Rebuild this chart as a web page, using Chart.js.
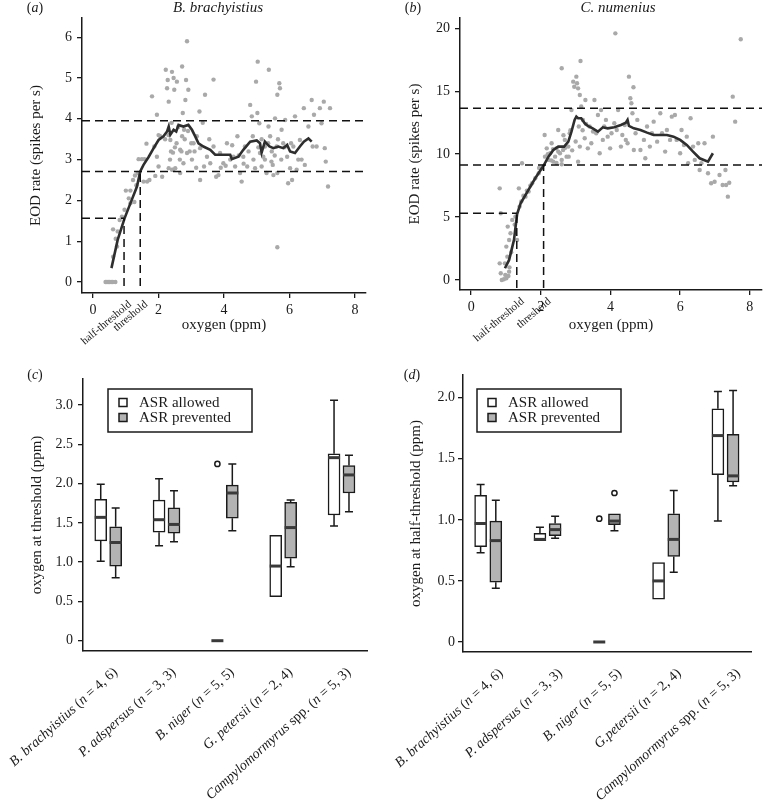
<!DOCTYPE html>
<html>
<head>
<meta charset="utf-8">
<script src="https://cdn.jsdelivr.net/npm/chart.js@4.4.0/dist/chart.umd.min.js"></script>
<style>
  body { margin: 0; background: #fff; width: 766px; height: 812px; position: relative; overflow: hidden; }
  canvas { position: absolute; }
</style>
</head>
<body>
<canvas id="a" width="383" height="345" style="left:0;top:0"></canvas>
<canvas id="b" width="383" height="345" style="left:383px;top:0"></canvas>
<canvas id="c" width="383" height="482" style="left:0;top:330px"></canvas>
<canvas id="d" width="383" height="482" style="left:383px;top:330px"></canvas>
<script>
// ---- panel (a) B. brachyistius: EOD rate vs oxygen ----
var oxyA = [0.38,0.42,0.46,0.50,0.55,0.60,0.68,
  0.61,0.75,0.69,0.73,0.61,0.81,0.88,0.96,1.00,1.09,1.14,1.22,1.28,1.26,1.14,1.32,1.36,1.39,1.49,1.57,1.63,1.54,1.65,1.72,
  1.80,1.95,1.87,1.95,2.00,2.05,2.11,2.22,2.26,2.28,2.31,2.41,2.46,2.48,2.56,2.36,2.38,2.44,2.31,2.41,2.51,2.66,
  2.72,2.74,2.82,2.87,2.84,2.91,2.78,2.72,2.66,2.87,2.76,2.95,3.02,3.07,3.17,3.25,3.42,3.68,3.27,3.27,3.48,3.39,3.58,3.68,3.76,3.83,3.88,3.98,
  4.09,4.19,4.29,4.34,4.41,4.49,4.54,4.59,4.64,4.71,4.80,4.85,4.88,4.95,4.98,5.03,5.02,5.08,5.10,5.15,
  5.20,5.25,5.30,5.37,5.36,5.41,5.46,5.49,5.51,5.56,5.61,5.63,5.69,5.71,5.63,5.63,5.76,5.81,5.87,5.93,
  5.96,6.02,6.08,6.12,6.17,6.22,6.27,6.32,6.37,6.44,6.47,6.58,6.68,6.71,6.75,6.83,6.93,6.98,7.05,7.08,7.11,7.18,7.24,
  2.20,2.30,2.40,2.50,2.60,2.70,2.80,2.90,3.00,3.10,2.45,2.35,2.55,2.65,2.00,1.90,
  5.05,5.15,5.25,5.35,5.45,5.55,5.65,5.75,5.85,6.05,4.90,4.75,4.60,4.45,4.25,4.05,3.90,3.55,3.35,3.15]
var rateA = [0,0,0,0,0,0,0,
  1.29,1.24,1.06,0.87,0.62,1.52,1.60,1.77,2.24,2.05,2.24,2.50,2.61,1.96,1.93,2.37,2.67,3.01,3.01,3.01,3.39,2.46,2.46,2.50,
  4.55,4.10,3.32,3.07,2.83,3.57,2.58,5.20,4.75,4.95,4.42,5.15,5.00,4.71,4.91,3.48,3.20,3.17,2.79,2.75,2.79,2.67,
  5.28,4.14,4.46,5.90,4.95,4.71,3.73,3.57,3.24,3.16,2.91,3.20,3.00,3.40,3.57,4.18,4.59,4.96,2.50,3.28,3.07,2.83,2.91,3.32,2.58,2.62,3.16,2.91,
  3.40,3.00,3.07,2.83,3.57,2.67,2.46,3.07,3.32,2.83,4.34,4.06,3.57,2.79,4.91,5.40,4.14,3.89,3.16,2.83,
  3.07,3.32,2.67,5.20,3.81,3.57,3.20,2.87,2.62,4.01,3.32,4.59,4.87,4.75,0.85,2.67,3.73,3.40,3.97,3.07,
  2.42,2.79,2.50,3.32,4.06,2.75,3.00,3.48,3.00,4.26,2.87,3.81,4.46,3.32,4.10,3.32,4.26,3.89,4.42,3.28,2.95,2.34,4.26,
  3.50,3.60,3.90,3.30,3.80,3.20,3.50,3.70,3.40,3.20,2.75,3.00,3.40,3.00,3.60,2.60,
  3.30,3.50,3.00,3.40,2.95,3.10,3.50,3.00,3.30,3.40,3.00,3.20,2.90,3.10,3.35,2.85,2.80,3.50,3.90,2.80]
var smoothOxyA = [0.56,0.75,0.96,1.16,1.34,1.44,1.54,1.70,1.85,2.00,2.15,2.26,2.31,2.36,2.46,2.54,2.61,2.76,2.91,3.02,
  3.12,3.22,3.37,3.58,3.73,3.93,4.19,4.24,4.44,4.59,4.80,5.00,5.10,5.15,5.25,5.39,5.51,5.66,5.81,5.93,6.02,6.17,6.32,6.44,6.58,6.68]
var smoothRateA = [0.34,1.03,1.56,1.97,2.34,2.71,2.87,3.07,3.28,3.48,3.57,3.69,3.81,3.61,3.73,3.69,3.85,3.81,3.85,3.73,
  3.57,3.40,3.32,3.24,3.12,3.12,3.12,3.01,3.07,3.24,3.44,3.47,3.40,3.17,3.44,3.32,3.28,3.32,3.28,3.36,3.20,3.16,3.32,3.44,3.52,3.44]
var dashRateA = [3.95, 2.71, 1.56]   // plateau, threshold, half-threshold
var dashOxyA = [1.44, 0.945]         // threshold, half-threshold
var xTicksA = [0, 2, 4, 6, 8]
var yTicksA = [0, 1, 2, 3, 4, 5, 6]

// ---- panel (b) C. numenius ----
var oxyB = [0.82,0.85,0.82,0.85,0.88,0.94,1.01,1.07,1.09,0.97,1.04,1.01,1.09,1.05,1.13,1.18,1.27,1.32,1.37,1.39,
  1.44,1.46,1.56,1.65,1.75,1.84,1.94,2.03,2.11,2.12,2.17,2.22,2.27,2.31,2.36,2.41,2.45,2.50,2.55,2.60,
  2.64,2.60,2.69,2.74,2.79,2.83,2.88,2.93,2.96,3.02,3.04,3.07,3.12,3.14,3.16,3.09,3.12,3.07,3.21,3.26,
  3.28,3.35,3.40,3.45,3.54,3.59,3.64,3.69,3.73,3.78,3.82,3.87,3.92,3.99,4.03,4.11,4.14,4.18,4.22,4.30,
  4.34,4.41,4.44,4.49,4.53,4.57,4.60,4.66,4.63,4.67,4.72,4.77,4.86,4.96,5.00,5.05,5.13,5.19,5.24,5.34,
  5.43,5.48,5.57,5.62,5.71,5.76,5.85,5.90,6.00,6.04,6.11,6.19,6.23,6.30,6.37,6.42,6.52,6.56,6.61,6.70,
  6.80,6.89,6.94,6.99,7.13,7.22,7.30,7.32,7.37,7.41,7.51,7.58,7.74,
  2.30,2.50,2.60,2.70,2.80,2.90,2.35,2.45,2.20,2.65,2.85,3.00,3.20,3.30,3.50,1.95,1.70,1.60,1.50,1.25,1.15,1.10,0.98]
var rateB = [7.28,5.30,1.32,0.53,0,0.05,0.13,0.32,0.66,1.32,1.85,2.65,3.18,4.24,3.71,4.77,5.03,3.18,7.28,5.83,
  6.23,9.27,6.62,7.02,7.68,8.08,8.48,8.87,11.52,9.80,10.46,9.54,10.07,10.86,9.40,9.80,10.46,11.92,10.07,9.54,
  10.33,16.82,11.13,9.80,10.60,11.66,13.51,15.76,15.36,16.16,15.63,15.23,14.70,17.40,13.78,12.19,10.60,9.40,12.72,11.26,
  14.30,10.46,12.19,10.86,14.30,11.66,13.11,10.07,13.51,11.13,12.19,12.72,11.39,10.46,11.66,12.45,19.60,11.92,13.51,10.60,
  11.52,12.32,11.13,10.86,16.16,14.44,14.04,15.31,13.25,10.33,11.66,12.72,10.33,11.13,9.67,12.19,10.60,11.66,12.58,10.99,
  13.25,11.66,10.20,11.92,11.13,12.98,13.11,11.13,10.07,11.92,10.73,11.39,9.27,12.85,10.60,9.54,10.86,8.74,9.27,10.86,
  8.48,7.68,11.39,7.81,8.34,7.55,8.74,7.55,6.62,7.73,14.57,12.58,19.13,
  9.50,10.20,9.20,10.50,9.80,10.30,10.40,9.30,10.00,11.50,11.90,11.00,11.90,12.40,11.80,8.90,7.50,7.10,6.70,4.40,2.20,1.00,0.40]
var smoothOxyB = [0.97,1.09,1.23,1.32,1.42,1.56,1.70,1.84,2.08,2.22,2.36,2.50,2.67,2.79,2.88,2.97,3.02,3.07,3.16,3.26,
  3.35,3.49,3.64,3.78,3.92,4.11,4.30,4.44,4.49,4.53,4.67,4.86,5.05,5.24,5.43,5.62,5.81,6.00,6.19,6.37,6.56,6.80,6.94]
var smoothRateB = [0.93,1.59,3.18,5.24,6.09,6.75,7.42,8.08,9.09,9.80,10.33,10.60,10.60,10.99,11.79,12.72,12.98,12.85,12.85,12.45,
  12.24,12.05,11.79,12.13,12.05,12.13,12.32,12.50,12.72,12.24,12.05,11.92,11.71,11.52,11.52,11.52,11.39,11.13,10.73,10.20,9.67,9.40,10.07]
var dashRateB = [13.64, 9.14, 5.30]
var dashOxyB = [2.08, 1.31]
var xTicksB = [0, 2, 4, 6, 8]
var yTicksB = [0, 5, 10, 15, 20]

// ---- panels (c) and (d): box plots, each row = [min, q1, median, q3, max] ----
var species = ['B. brachyistius', 'P. adspersus', 'B. niger', 'G. petersii', 'Campylomormyrus']
var speciesD = ['B. brachyistius', 'P. adspersus', 'B. niger', 'G.petersii', 'Campylomormyrus']
var sampleN = ['4, 6', '3, 3', '5, 5', '2, 4', '5, 3']

var thrAllowed = [[1.01,1.27,1.57,1.80,1.99],[1.21,1.38,1.54,1.79,2.06],[0,0,0,0,0],[0.56,0.56,0.95,1.34,1.34],[1.46,1.60,2.33,2.38,3.06]]
var thrPrevented = [[0.80,0.95,1.25,1.45,1.69],[1.26,1.37,1.48,1.69,1.91],[1.40,1.56,1.88,1.98,2.25],[0.94,1.05,1.44,1.76,1.79],[1.64,1.88,2.11,2.23,2.36]]
var thrOutAllowed = [[], [], [2.25], [], []]
var thrOutPrevented = [[], [], [], [], []]
var yTicksC = [0, 0.5, 1, 1.5, 2, 2.5, 3]

var halfAllowed = [[0.73,0.78,0.97,1.20,1.29],[0.83,0.83,0.84,0.89,0.94],[0,0,0,0,0],[0.35,0.35,0.50,0.65,0.65],[0.99,1.37,1.69,1.91,2.05]]
var halfPrevented = [[0.44,0.49,0.83,0.99,1.16],[0.85,0.87,0.92,0.97,1.03],[0.91,0.96,0.99,1.05,1.05],[0.57,0.70,0.84,1.05,1.24],[1.28,1.31,1.36,1.70,2.06]]
var halfOutAllowed = [[], [], [1.01], [], []]
var halfOutPrevented = [[], [], [1.22], [], []]
var yTicksD = [0, 0.5, 1, 1.5, 2]

var serif = '"Liberation Serif", "DejaVu Serif", serif'
var ink = '#1a1a1a'
Chart.defaults.font.family = serif
Chart.defaults.color = ink

function xy(xs, ys) { return xs.map(function (x, i) { return {x: x, y: ys[i]} }) }
function fixTicks(list) { return function (s) { s.ticks = list.map(function (v) { return {value: v} }) } }

// text made of pieces, some italic
function drawParts(ctx, parts, size, x, y, angle, align) {
    ctx.save()
    ctx.translate(x, y)
    ctx.rotate(angle)
    ctx.textBaseline = 'middle'
    ctx.textAlign = 'left'
    ctx.fillStyle = ink
    var fonts = parts.map(function (p) { return (p[1] ? 'italic ' : '') + size + 'px ' + serif })
    var total = 0
    var widths = parts.map(function (p, i) { ctx.font = fonts[i]; var w = ctx.measureText(p[0]).width; total += w; return w })
    var cx = align === 'right' ? -total : align === 'center' ? -total / 2 : 0
    parts.forEach(function (p, i) { ctx.font = fonts[i]; ctx.fillText(p[0], cx, 0); cx += widths[i] })
    ctx.restore()
}

function yAxis(o, extra) {
    return Object.assign({
        type: 'linear', min: o.yMin, max: o.yMax,
        afterBuildTicks: fixTicks(o.yTicks),
        afterFit: function (s) { s.width = o.yWidth },
        border: {color: ink, width: 1.5},
        grid: {drawOnChartArea: false, tickLength: 5, color: ink, lineWidth: 1.3},
        ticks: {font: {size: 14}, padding: o.yTickPad, color: ink},
        title: {display: true, text: o.yTitle, font: {size: 15}, color: ink, padding: {top: o.yTitlePad, bottom: 0}}
    }, extra || {})
}

function scatterPanel(id, o) {
    var dash = {showLine: true, borderColor: '#111', borderWidth: 1.5, borderDash: [8, 5], pointRadius: 0, order: 0}
    var yLow = o.vBottom
    new Chart(document.getElementById(id), {
        type: 'scatter',
        data: {
            datasets: [
                {data: xy(o.oxy, o.rate), pointRadius: 2.2, backgroundColor: '#a9a9a9', borderWidth: 0, order: 3},
                {data: xy(o.smoothOxy, o.smoothRate), showLine: true, borderColor: '#2e2e2e', borderWidth: 2.6, pointRadius: 0, order: 1},
                Object.assign({data: [{x: o.xMin, y: o.dashRate[0]}, {x: o.xMax, y: o.dashRate[0]}]}, dash),
                Object.assign({data: [{x: o.xMin, y: o.dashRate[1]}, {x: o.xMax, y: o.dashRate[1]}]}, dash),
                Object.assign({data: [{x: o.xMin, y: o.dashRate[2]}, {x: o.dashOxy[1], y: o.dashRate[2]}]}, dash),
                Object.assign({data: [{x: o.dashOxy[1], y: yLow}, {x: o.dashOxy[1], y: o.dashRate[2]}]}, dash),
                Object.assign({data: [{x: o.dashOxy[0], y: yLow}, {x: o.dashOxy[0], y: o.dashRate[1]}]}, dash)
            ]
        },
        options: {
            responsive: false, animation: false, events: [],
            layout: {padding: {top: o.top, right: o.right, left: 0, bottom: 0}},
            plugins: {legend: {display: false}, tooltip: {enabled: false}},
            scales: {
                x: {
                    type: 'linear', min: o.xMin, max: o.xMax,
                    afterBuildTicks: fixTicks(o.xTicks),
                    afterFit: function (s) { s.height = o.xHeight },
                    border: {color: ink, width: 1.5},
                    grid: {drawOnChartArea: false, tickLength: 5, color: ink, lineWidth: 1.3},
                    ticks: {font: {size: 14}, padding: 4, maxRotation: 0, color: ink},
                    title: {display: true, text: 'oxygen (ppm)', font: {size: 15}, color: ink, padding: {top: 0, bottom: 11}}
                },
                y: yAxis(o)
            }
        },
        plugins: [{
            id: 'decor',
            afterDraw: function (chart) {
                var ctx = chart.ctx, xs = chart.scales.x, ca = chart.chartArea
                drawParts(ctx, [['(', false], [o.letter, true], [')', false]], 14, o.letterX, 8, 0, 'center')
                drawParts(ctx, [[o.title, true]], 15, o.titleX, 8, 0, 'center')
                var ang = -40 * Math.PI / 180
                drawParts(ctx, [['half-threshold', false]], 11, xs.getPixelForValue(o.dashOxy[1]) + 6, ca.bottom + 10, ang, 'right')
                drawParts(ctx, [['threshold', false]], 11, xs.getPixelForValue(o.dashOxy[0]) + 6, ca.bottom + 10, ang, 'right')
            }
        }]
    })
}

function boxPanel(id, o) {
    var off = 0.128
    function boxes(stats, dx, fill) {
        return {
            type: 'bar', grouped: false, barThickness: 12,
            data: stats.map(function (s, i) { return {x: i + 1 + dx, y: [s[1], s[3]]} }),
            backgroundColor: fill, borderColor: ink, borderWidth: 1.5, borderSkipped: false, order: 2
        }
    }
    function outliers(lists, dx) {
        var pts = []
        lists.forEach(function (l, i) { l.forEach(function (v) { pts.push({x: i + 1 + dx, y: v}) }) })
        return {type: 'scatter', data: pts, pointRadius: 2.6, borderWidth: 1.5, borderColor: ink, backgroundColor: '#fff', order: 0}
    }
    new Chart(document.getElementById(id), {
        type: 'bar',
        data: {
            datasets: [
                boxes(o.allowed, -off, '#ffffff'),
                boxes(o.prevented, off, '#b3b3b3'),
                outliers(o.outAllowed, -off),
                outliers(o.outPrevented, off)
            ]
        },
        options: {
            responsive: false, animation: false, events: [],
            layout: {padding: {top: o.top, right: o.right, left: 0, bottom: 0}},
            plugins: {legend: {display: false}, tooltip: {enabled: false}},
            scales: {
                x: {
                    type: 'linear', min: o.xMin, max: o.xMax, offset: false,
                    afterFit: function (s) { s.height = o.xHeight },
                    ticks: {display: false}, grid: {display: false},
                    border: {color: ink, width: 1.5}
                },
                y: yAxis(o, {ticks: {font: {size: 14}, padding: o.yTickPad, color: ink,
                    callback: function (v) { return v === 0 ? '0' : v.toFixed(1) }}})
            }
        },
        plugins: [{
            id: 'whiskers',
            afterDatasetsDraw: function (chart) {
                var ctx = chart.ctx, xs = chart.scales.x, ys = chart.scales.y
                ;[[o.allowed, -off], [o.prevented, off]].forEach(function (g) {
                    g[0].forEach(function (s, i) {
                        var px = xs.getPixelForValue(i + 1 + g[1])
                        ctx.save()
                        ctx.strokeStyle = ink
                        ctx.lineWidth = 1.5
                        ctx.beginPath()
                        if (s[4] > s[3]) {
                            ctx.moveTo(px, ys.getPixelForValue(s[3])); ctx.lineTo(px, ys.getPixelForValue(s[4]))
                            ctx.moveTo(px - 4, ys.getPixelForValue(s[4])); ctx.lineTo(px + 4, ys.getPixelForValue(s[4]))
                        }
                        if (s[0] < s[1]) {
                            ctx.moveTo(px, ys.getPixelForValue(s[1])); ctx.lineTo(px, ys.getPixelForValue(s[0]))
                            ctx.moveTo(px - 4, ys.getPixelForValue(s[0])); ctx.lineTo(px + 4, ys.getPixelForValue(s[0]))
                        }
                        ctx.stroke()
                        ctx.strokeStyle = '#3a3a3a'
                        ctx.lineWidth = 3
                        ctx.beginPath()
                        ctx.moveTo(px - 6, ys.getPixelForValue(s[2])); ctx.lineTo(px + 6, ys.getPixelForValue(s[2]))
                        ctx.stroke()
                        ctx.restore()
                    })
                })
            },
            afterDraw: function (chart) {
                var ctx = chart.ctx, xs = chart.scales.x, ca = chart.chartArea
                drawParts(ctx, [['(', false], [o.letter, true], [')', false]], 14, o.letterX, 45, 0, 'center')
                // legend box
                var lx = ca.left + o.legX, ly = ca.top + o.legY
                ctx.save()
                ctx.strokeStyle = ink
                ctx.lineWidth = 1.5
                ctx.strokeRect(lx, ly, 144, 43)
                ctx.fillStyle = '#fff'
                ctx.fillRect(lx + 11, ly + 9.5, 8, 8)
                ctx.strokeRect(lx + 11, ly + 9.5, 8, 8)
                ctx.fillStyle = '#b3b3b3'
                ctx.fillRect(lx + 11, ly + 24.5, 8, 8)
                ctx.strokeRect(lx + 11, ly + 24.5, 8, 8)
                ctx.restore()
                drawParts(ctx, [['ASR allowed', false]], 15, lx + 31, ly + 14, 0, 'left')
                drawParts(ctx, [['ASR prevented', false]], 15, lx + 31, ly + 29, 0, 'left')
                // rotated species labels
                var ang = -42 * Math.PI / 180
                o.names.forEach(function (name, i) {
                    var cx = xs.getPixelForValue(i + 1)
                    var pre = name === 'Campylomormyrus' ? ' spp. (' : ' ('
                    drawParts(ctx, [[name, true], [pre, false], ['n', true], [' = ' + sampleN[i] + ')', false]],
                        14, cx + o.labDx + 4, ca.bottom + 19.5, ang, 'right')
                })
            }
        }]
    })
}

scatterPanel('a', {
    oxy: oxyA, rate: rateA, smoothOxy: smoothOxyA, smoothRate: smoothRateA,
    dashRate: dashRateA, dashOxy: dashOxyA, xTicks: xTicksA, yTicks: yTicksA,
    xMin: -0.34, xMax: 8.34, yMin: -0.27, yMax: 6.47, vBottom: -0.1,
    top: 18, right: 17, yWidth: 82, xHeight: 52, yTickPad: 5, yTitlePad: 27,
    yTitle: 'EOD rate (spikes per s)', letter: 'a', letterX: 35, title: 'B. brachyistius', titleX: 218
})
scatterPanel('b', {
    oxy: oxyB, rate: rateB, smoothOxy: smoothOxyB, smoothRate: smoothRateB,
    dashRate: dashRateB, dashOxy: dashOxyB, xTicks: xTicksB, yTicks: yTicksB,
    xMin: -0.32, xMax: 8.35, yMin: -0.8, yMax: 20.82, vBottom: -0.65,
    top: 18, right: 0, yWidth: 77, xHeight: 55, yTickPad: 5, yTitlePad: 23,
    yTitle: 'EOD rate (spikes per s)', letter: 'b', letterX: 30, title: 'C. numenius', titleX: 235
})
boxPanel('c', {
    allowed: thrAllowed, prevented: thrPrevented, outAllowed: thrOutAllowed, outPrevented: thrOutPrevented,
    names: species, yTicks: yTicksC,
    xMin: 0.568, xMax: 5.437, yMin: -0.131, yMax: 3.331,
    top: 49, right: 16, yWidth: 83, xHeight: 161, yTickPad: 5, yTitlePad: 28,
    yTitle: 'oxygen at threshold (ppm)', letter: 'c', letterX: 35, legX: 25, legY: 10, labDx: 3.5
})
boxPanel('d', {
    allowed: halfAllowed, prevented: halfPrevented, outAllowed: halfOutAllowed, outPrevented: halfOutPrevented,
    names: speciesD, yTicks: yTicksD,
    xMin: 0.575, xMax: 5.43, yMin: -0.082, yMax: 2.186,
    top: 45, right: 15, yWidth: 80, xHeight: 160, yTickPad: 3, yTitlePad: 24,
    yTitle: 'oxygen at half-threshold (ppm)', letter: 'd', letterX: 29, legX: 14, legY: 14, labDx: 9
})
</script>
</body>
</html>
